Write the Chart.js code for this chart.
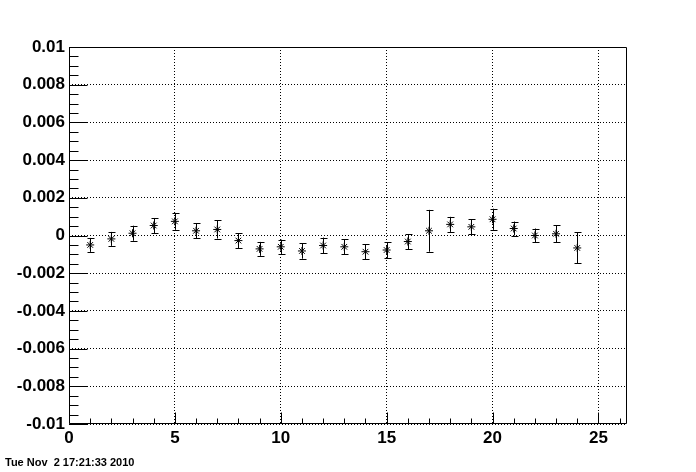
<!DOCTYPE html>
<html>
<head>
<meta charset="utf-8">
<script src="https://cdn.jsdelivr.net/npm/chart.js@4.4.0/dist/chart.umd.min.js"></script>
<style>
    html, body { margin: 0; padding: 0; background: #fff; }
    #wadah { position: relative; width: 696px; height: 472px; }
</style>
</head>
<body>
<div id="wadah"><canvas id="grafik" width="696" height="472"></canvas></div>
<script>
// data titik
const xVals = [1, 2, 3, 4, 5, 6, 7, 8, 9, 10, 11, 12, 13, 14, 15, 16, 17, 18, 19, 20, 21, 22, 23, 24];
const yVals = [-0.00050, -0.00018, 0.00012, 0.00053, 0.00075, 0.00025, 0.00032, -0.00027,
               -0.00071, -0.00060, -0.00082, -0.00053, -0.00060, -0.00086, -0.00077, -0.00032,
               0.00025, 0.00059, 0.00046, 0.00086, 0.00037, 0.00000, 0.00009, -0.00066];
const yErr = [0.00037, 0.00037, 0.00040, 0.00040, 0.00045, 0.00040, 0.00048, 0.00040,
              0.00037, 0.00038, 0.00041, 0.00042, 0.00040, 0.00039, 0.00042, 0.00040,
              0.00111, 0.00040, 0.00039, 0.00056, 0.00037, 0.00037, 0.00045, 0.00082];

// sumbu
const xTicks = [0, 5, 10, 15, 20, 25];
const xLabels = ['0', '5', '10', '15', '20', '25'];
const yTicks = [-0.01, -0.008, -0.006, -0.004, -0.002, 0, 0.002, 0.004, 0.006, 0.008, 0.01];
const yLabels = ['-0.01', '-0.008', '-0.006', '-0.004', '-0.002', '0', '0.002', '0.004', '0.006', '0.008', '0.01'];
const xMinor = [1, 2, 3, 4, 6, 7, 8, 9, 11, 12, 13, 14, 16, 17, 18, 19, 21, 22, 23, 24, 26];
const yMinor = [];
for (let i = -20; i <= 20; i++) { if (i % 4 !== 0) yMinor.push(i * 0.0005); }
const tanggal = 'Tue Nov  2 17:21:33 2010';

Chart.defaults.font.family = "'Liberation Sans', Arial, sans-serif";
Chart.defaults.color = '#000000';

// error bar vertikal dengan tutup
const pluginErrorBar = {
    id: 'errorBar',
    beforeDatasetsDraw(chart) {
        const ctx = chart.ctx;
        const sx = chart.scales.x, sy = chart.scales.y;
        ctx.save();
        ctx.strokeStyle = '#000';
        ctx.lineWidth = 1;
        xVals.forEach((x, i) => {
            const px = Math.round(sx.getPixelForValue(x)) + 0.5;
            const atas = sy.getPixelForValue(yVals[i] + yErr[i]);
            const bawah = sy.getPixelForValue(yVals[i] - yErr[i]);
            ctx.beginPath();
            ctx.moveTo(px, atas); ctx.lineTo(px, bawah);
            ctx.moveTo(px - 3, Math.round(atas) + 0.5); ctx.lineTo(px + 4, Math.round(atas) + 0.5);
            ctx.moveTo(px - 3, Math.round(bawah) + 0.5); ctx.lineTo(px + 4, Math.round(bawah) + 0.5);
            ctx.stroke();
        });
        ctx.restore();
    }
};

// bingkai, tick ke dalam, dan tanggal
const pluginBingkai = {
    id: 'bingkai',
    afterDraw(chart) {
        const ctx = chart.ctx;
        const a = chart.chartArea;
        const sx = chart.scales.x, sy = chart.scales.y;
        const kiri = Math.round(a.left) + 0.5, kanan = Math.round(a.right) - 0.5;
        const atas = Math.round(a.top) + 0.5, bawah = Math.round(a.bottom) - 0.5;
        ctx.save();
        ctx.strokeStyle = '#000';
        ctx.lineWidth = 1;
        ctx.beginPath();
        ctx.rect(kiri, atas, kanan - kiri, bawah - atas);
        yTicks.forEach(v => {
            const py = Math.round(sy.getPixelForValue(v)) + 0.5;
            ctx.moveTo(kiri, py); ctx.lineTo(kiri + 18, py);
        });
        yMinor.forEach(v => {
            const py = Math.round(sy.getPixelForValue(v)) + 0.5;
            ctx.moveTo(kiri, py); ctx.lineTo(kiri + 9, py);
        });
        xTicks.forEach(v => {
            const px = Math.round(sx.getPixelForValue(v)) + 0.5;
            ctx.moveTo(px, bawah); ctx.lineTo(px, bawah - 11);
        });
        xMinor.forEach(v => {
            const px = Math.round(sx.getPixelForValue(v)) + 0.5;
            ctx.moveTo(px, bawah); ctx.lineTo(px, bawah - 5);
        });
        ctx.stroke();

        ctx.fillStyle = '#000';
        ctx.font = "bold 11px 'Liberation Sans', Arial, sans-serif";
        ctx.textBaseline = 'alphabetic';
        ctx.fillText(tanggal, 5, 466);
        ctx.restore();
    }
};

const gridOpsi = { color: '#000000', lineWidth: 1, drawTicks: false };
const borderOpsi = { display: false, dash: [1, 2] };

const ctx = document.getElementById('grafik').getContext('2d');
const grafikChart = new Chart(ctx, {
    type: 'scatter',
    data: {
        datasets: [{
            data: xVals.map((x, i) => ({ x: x, y: yVals[i] })),
            pointStyle: 'star',
            pointRadius: 4,
            borderColor: '#000',
            backgroundColor: '#000',
            borderWidth: 1
        }]
    },
    options: {
        responsive: false,
        animation: false,
        devicePixelRatio: 1,
        layout: { padding: { top: 47, right: 69, left: 0, bottom: 0 } },
        plugins: {
            legend: { display: false },
            tooltip: { enabled: false }
        },
        scales: {
            x: {
                type: 'linear',
                min: 0,
                max: 26.35,
                afterFit: s => { s.height = 48; },
                afterBuildTicks: s => { s.ticks = xTicks.map(v => ({ value: v })); },
                grid: gridOpsi,
                border: borderOpsi,
                ticks: {
                    color: '#000',
                    font: { size: 17, weight: 'bold' },
                    padding: 4,
                    maxRotation: 0,
                    autoSkip: false,
                    callback: (v, i) => xLabels[i]
                }
            },
            y: {
                type: 'linear',
                min: -0.01,
                max: 0.01,
                afterFit: s => { s.width = 69; },
                afterBuildTicks: s => { s.ticks = yTicks.map(v => ({ value: v })); },
                grid: gridOpsi,
                border: borderOpsi,
                ticks: {
                    color: '#000',
                    font: { size: 17, weight: 'bold' },
                    padding: 4,
                    autoSkip: false,
                    callback: (v, i) => yLabels[i]
                }
            }
        }
    },
    plugins: [pluginErrorBar, pluginBingkai]
});
</script>
</body>
</html>
